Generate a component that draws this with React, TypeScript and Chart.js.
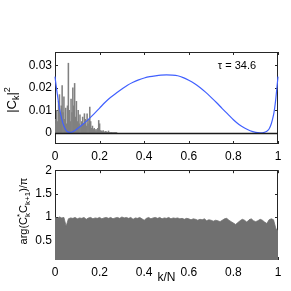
import React, { useEffect, useRef } from 'react';
import { Chart, registerables } from 'chart.js';
Chart.register(...registerables);

const FONT = '"Liberation Sans", Arial, Helvetica, sans-serif';

const spectrumK = [0, 0.004, 0.008, 0.012, 0.016, 0.02, 0.024, 0.028, 0.032, 0.036,
  0.04, 0.044, 0.048, 0.052, 0.056, 0.06, 0.064, 0.068, 0.072, 0.076,
  0.08, 0.084, 0.088, 0.092, 0.096, 0.1, 0.104, 0.108, 0.112, 0.116,
  0.12, 0.124, 0.128, 0.132, 0.136, 0.14, 0.144, 0.148, 0.152, 0.156,
  0.16, 0.164, 0.168, 0.172, 0.176, 0.18, 0.184, 0.188, 0.192, 0.196,
  0.2, 0.204, 0.208, 0.212, 0.216, 0.22, 0.224, 0.228, 0.232, 0.236,
  0.24, 0.244, 0.248, 0.252, 0.256, 0.26, 0.264, 0.268, 0.272, 0.276];
const spectrumV = [0.004, 0.006, 0.010, 0.005, 0.014, 0.017, 0.008, 0.012, 0.021, 0.009,
  0.016, 0.006, 0.011, 0.004, 0.012, 0.031, 0.010, 0.005, 0.015, 0.009,
  0.020, 0.012, 0.022, 0.007, 0.014, 0.005, 0.010, 0.004, 0.008, 0.003,
  0.005, 0.007, 0.004, 0.0085, 0.006, 0.003, 0.0085, 0.004, 0.006, 0.0115,
  0.005, 0.002, 0.003, 0.0015, 0.002, 0.001, 0.0015, 0.001, 0.002, 0.0055,
  0.004, 0.001, 0.0008, 0.0005, 0.001, 0.0004, 0.0003, 0.0006, 0.0003, 0.0002,
  0.0008, 0.0002, 0.0001, 0.0002, 0.0001, 0.0001, 0.0001, 0.0001, 0.0001, 0.0001];

const blueK = [0, 0.005, 0.01, 0.015, 0.02, 0.03, 0.04, 0.05, 0.06, 0.07, 0.08, 0.10, 0.125, 0.15, 0.175, 0.2,
  0.225, 0.25, 0.275, 0.3, 0.325, 0.35, 0.375, 0.4, 0.425, 0.45, 0.475, 0.5, 0.525, 0.55, 0.575,
  0.6, 0.625, 0.65, 0.675, 0.7, 0.725, 0.75, 0.775, 0.8, 0.825, 0.85, 0.875, 0.9, 0.92, 0.935,
  0.95, 0.96, 0.97, 0.98, 0.985, 0.99, 0.995, 1.0];
const blueV = [0.0250, 0.0210, 0.0175, 0.0140, 0.0110, 0.0062, 0.0030, 0.0011, 0.0003, 0.0002, 0.0005, 0.0018,
  0.0038, 0.0060, 0.0084, 0.0110, 0.0136, 0.0158, 0.0177, 0.0195, 0.0212, 0.0225, 0.0236,
  0.0244, 0.0250, 0.0254, 0.0257, 0.0258, 0.0257, 0.0254, 0.0246, 0.0234, 0.0220, 0.0202,
  0.0181, 0.0158, 0.0134, 0.0108, 0.0083, 0.0058, 0.0037, 0.0021, 0.0009, 0.0002, 0.0000,
  0.0001, 0.0007, 0.0017, 0.0040, 0.0080, 0.0110, 0.0150, 0.0200, 0.0250];

const phaseK = [0, 0.01, 0.02, 0.03, 0.04, 0.05, 0.06, 0.07, 0.08, 0.09,
  0.1, 0.11, 0.12, 0.13, 0.14, 0.15, 0.16, 0.17, 0.18, 0.19,
  0.2, 0.21, 0.22, 0.23, 0.24, 0.25, 0.26, 0.27, 0.28, 0.29,
  0.3, 0.31, 0.32, 0.33, 0.34, 0.35, 0.36, 0.37, 0.38, 0.39,
  0.4, 0.41, 0.42, 0.43, 0.44, 0.45, 0.46, 0.47, 0.48, 0.49,
  0.5, 0.51, 0.52, 0.53, 0.54, 0.55, 0.56, 0.57, 0.58, 0.59,
  0.6, 0.61, 0.62, 0.63, 0.64, 0.65, 0.66, 0.67, 0.68, 0.69,
  0.7, 0.71, 0.72, 0.73, 0.74, 0.75, 0.76, 0.77, 0.78, 0.79,
  0.8, 0.81, 0.82, 0.83, 0.84, 0.85, 0.86, 0.87, 0.88, 0.89,
  0.9, 0.91, 0.92, 0.93, 0.94, 0.95, 0.96, 0.97, 0.98, 0.99, 1.0];
const phaseV = [0.99, 0.97, 1.0, 0.98, 0.99, 0.80, 0.96, 0.98, 0.97, 0.99,
  0.96, 0.98, 0.97, 0.99, 0.95, 0.98, 0.99, 0.96, 0.98, 0.97,
  0.99, 0.96, 0.98, 0.99, 0.97, 0.99, 0.96, 0.98, 0.99, 0.97,
  1.0, 0.98, 0.99, 0.97, 0.99, 0.95, 0.98, 0.97, 0.99, 0.96,
  0.93, 0.97, 0.99, 0.96, 0.98, 0.99, 0.97, 0.99, 0.96, 0.98,
  0.97, 0.99, 0.96, 0.98, 0.97, 0.98, 0.96, 0.97, 0.95, 0.97,
  0.96, 0.94, 0.96, 0.95, 0.93, 0.95, 0.94, 0.96, 0.92, 0.94,
  0.93, 0.91, 0.93, 0.92, 0.90, 0.93, 0.96, 0.97, 0.93, 0.90,
  0.87, 0.84, 0.88, 0.92, 0.95, 0.93, 0.89, 0.94, 0.96, 0.92,
  0.90, 0.92, 0.95, 0.93, 0.89, 0.86, 0.94, 0.96, 0.94, 0.76, 0.70];

const xTicks = [0, 0.2, 0.4, 0.6, 0.8, 1];
const topYTicks = [0, 0.01, 0.02, 0.03];
const bottomYTicks = [0.5, 1, 1.5, 2];
const tauLabel = 'τ = 34.6';

type Part = { t: string; s: number; dy: number; noAdv?: boolean };

function drawRich(ctx: CanvasRenderingContext2D, parts: Part[], bx: number, cy: number) {
  ctx.save();
  ctx.translate(bx, cy);
  ctx.rotate(-Math.PI / 2);
  ctx.fillStyle = '#000';
  ctx.textBaseline = 'alphabetic';
  ctx.textAlign = 'left';
  let total = 0;
  const ws = parts.map((p) => {
    ctx.font = `${p.s}px ${FONT}`;
    const w = ctx.measureText(p.t).width;
    if (!p.noAdv) total += w;
    return w;
  });
  let x = -total / 2;
  parts.forEach((p, i) => {
    ctx.font = `${p.s}px ${FONT}`;
    ctx.fillText(p.t, x, p.dy);
    if (!p.noAdv) x += ws[i];
  });
  ctx.restore();
}

const boxPlugin = {
  id: 'boxPlugin',
  beforeDatasetsDraw(chart: any) {
    const { ctx, chartArea: a, scales } = chart;
    ctx.save();
    ctx.strokeStyle = '#262626';
    ctx.lineWidth = 1;
    ctx.strokeRect(Math.round(a.left) + 0.5, Math.round(a.top) + 0.5, Math.round(a.right - a.left) - 1, Math.round(a.bottom - a.top) - 1);
    const L = 3;
    ctx.beginPath();
    scales.x.ticks.forEach((t: any) => {
      const x = Math.round(scales.x.getPixelForValue(t.value)) + 0.5;
      ctx.moveTo(x, a.bottom);
      ctx.lineTo(x, a.bottom - L);
      ctx.moveTo(x, a.top);
      ctx.lineTo(x, a.top + L);
    });
    scales.y.ticks.forEach((t: any) => {
      const y = Math.round(scales.y.getPixelForValue(t.value)) + 0.5;
      ctx.moveTo(a.left, y);
      ctx.lineTo(a.left + L, y);
      ctx.moveTo(a.right, y);
      ctx.lineTo(a.right - L, y);
    });
    ctx.stroke();
    ctx.restore();
  },
  afterDraw(chart: any, _args: any, opts: any) {
    const { ctx, chartArea: a, scales } = chart;
    ctx.save();
    if (opts.zeroLine) {
      const y0 = Math.round(scales.y.getPixelForValue(0)) + 0.5;
      ctx.strokeStyle = '#1a1a1a';
      ctx.lineWidth = 1.3;
      ctx.beginPath();
      ctx.moveTo(a.left, y0);
      ctx.lineTo(a.right, y0);
      ctx.stroke();
    }
    if (opts.tau) {
      ctx.font = `11px ${FONT}`;
      ctx.fillStyle = '#000';
      ctx.textAlign = 'center';
      ctx.textBaseline = 'middle';
      ctx.fillText(opts.tau, 237, 65.5);
    }
    if (opts.title) drawRich(ctx, opts.title.parts, opts.title.x, opts.title.y);
    ctx.restore();
  },
};

function tickFont() {
  return { size: 12, family: FONT };
}

function makeX(height: number, title?: string) {
  return {
    type: 'linear',
    min: 0,
    max: 1,
    offset: false,
    grid: { display: false, drawTicks: false },
    border: { display: false },
    afterBuildTicks: (s: any) => { s.ticks = xTicks.map((v) => ({ value: v })); },
    ticks: { padding: 5, font: tickFont(), color: '#000', maxRotation: 0, autoSkip: false, callback: (v: any) => String(v) },
    title: title ? { display: true, text: title, font: { size: 12, family: FONT }, color: '#000', padding: { top: 0, bottom: 6 } } : { display: false },
    afterFit: (s: any) => { s.height = height; },
  };
}

function makeY(min: number, max: number, ticks: number[]) {
  return {
    min,
    max,
    grid: { display: false, drawTicks: false },
    border: { display: false },
    afterBuildTicks: (s: any) => { s.ticks = ticks.map((v) => ({ value: v })); },
    ticks: { padding: 3, font: tickFont(), color: '#000', autoSkip: false, callback: (v: any) => String(v) },
    afterFit: (s: any) => { s.width = 55; },
  };
}

export default function App() {
  const topRef = useRef<HTMLCanvasElement>(null);
  const botRef = useRef<HTMLCanvasElement>(null);

  useEffect(() => {
    const top = new Chart(topRef.current as HTMLCanvasElement, {
      type: 'bar',
      data: {
        datasets: [
          {
            type: 'line',
            data: blueK.map((k, i) => ({ x: k, y: blueV[i] })),
            borderColor: '#4060ff',
            borderWidth: 1.2,
            pointRadius: 0,
            tension: 0.3,
            clip: 2,
            order: 0,
          } as any,
          {
            type: 'bar',
            data: spectrumK.map((k, i) => ({ x: k, y: spectrumV[i] })),
            backgroundColor: '#808080',
            barPercentage: 1,
            categoryPercentage: 1,
            order: 1,
          } as any,
        ],
      },
      options: {
        animation: false,
        responsive: false,
        maintainAspectRatio: false,
        layout: { padding: { top: 52, right: 13, left: 0, bottom: 0 } },
        plugins: {
          legend: { display: false },
          tooltip: { enabled: false },
          boxPlugin: {
            zeroLine: true,
            tau: tauLabel,
            title: {
              x: 16,
              y: 100,
              parts: [
                { t: '|C', s: 13, dy: 0 },
                { t: 'k', s: 9, dy: 3 },
                { t: '|', s: 13, dy: 0 },
                { t: '2', s: 9, dy: -6 },
              ],
            },
          },
        } as any,
        scales: { x: makeX(16) as any, y: makeY(-0.005, 0.036, topYTicks) as any },
      },
      plugins: [boxPlugin],
    });

    const bot = new Chart(botRef.current as HTMLCanvasElement, {
      type: 'line',
      data: {
        datasets: [
          {
            data: phaseK.map((k, i) => ({ x: k, y: phaseV[i] })),
            backgroundColor: '#707070',
            borderColor: '#707070',
            borderWidth: 0.8,
            pointRadius: 0,
            fill: 'start',
          } as any,
        ],
      },
      options: {
        animation: false,
        responsive: false,
        maintainAspectRatio: false,
        layout: { padding: { top: 9, right: 13, left: 0, bottom: 0 } },
        plugins: {
          legend: { display: false },
          tooltip: { enabled: false },
          boxPlugin: {
            title: {
              x: 27,
              y: 51,
              parts: [
                { t: 'arg(C', s: 11, dy: 0 },
                { t: '*', s: 8, dy: -5, noAdv: true },
                { t: 'k', s: 8, dy: 3 },
                { t: 'C', s: 11, dy: 0 },
                { t: 'k+1', s: 8, dy: 3 },
                { t: ')/π', s: 11, dy: 0 },
              ],
            },
          },
        } as any,
        scales: { x: makeX(31, 'k/N') as any, y: makeY(0.08, 2, bottomYTicks) as any },
      },
      plugins: [boxPlugin],
    });

    return () => {
      top.destroy();
      bot.destroy();
    };
  }, []);

  return (
    <div style={{ position: 'fixed', left: 0, top: 0, width: 291, height: 291, background: '#fff' }}>
      <canvas ref={topRef} width={291} height={160} style={{ position: 'absolute', left: 0, top: 0, width: 291, height: 160 }} />
      <canvas ref={botRef} width={291} height={131} style={{ position: 'absolute', left: 0, top: 160, width: 291, height: 131 }} />
    </div>
  );
}
